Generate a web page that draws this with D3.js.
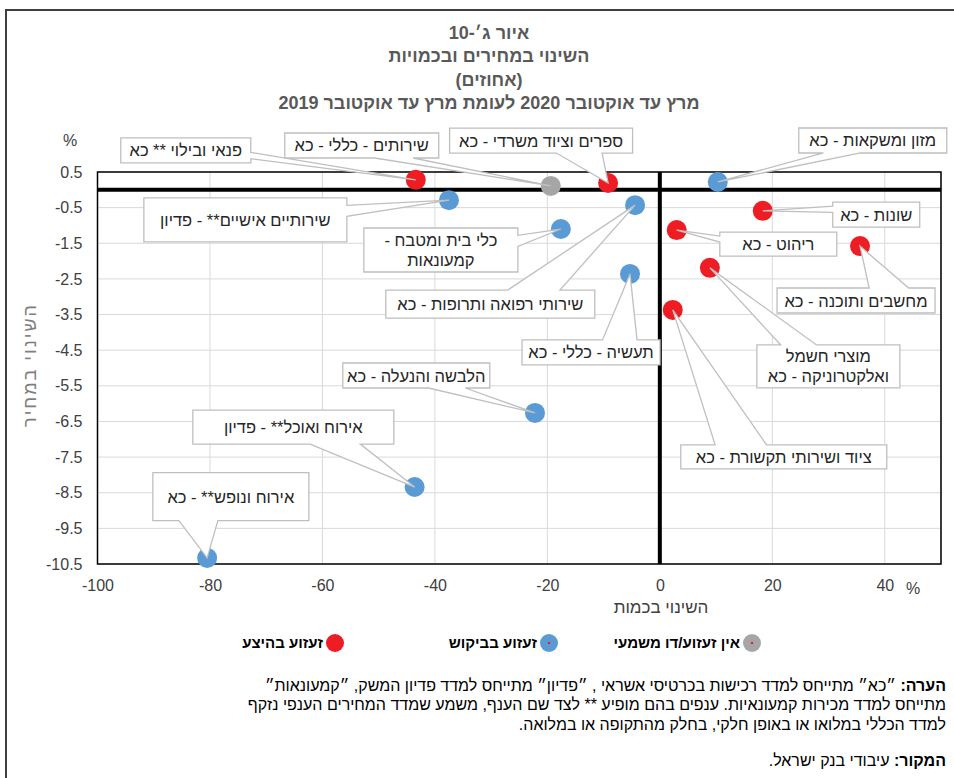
<!DOCTYPE html>
<html>
<style>
body { margin: 0; background: #fff; }
text { font-family: "Liberation Sans", "DejaVu Sans", sans-serif; }
</style>
<body>
<script src="https://d3js.org/d3.v7.min.js"></script>
<script>
// branches, change in quantity (x) and change in price (y), shock type
var categories = [
  "פנאי ובילוי ** כא",
  "ספרים וציוד משרדי - כא",
  "שונות - כא",
  "ריהוט - כא",
  "מחשבים ותוכנה - כא",
  "מוצרי חשמל|ואלקטרוניקה - כא",
  "ציוד ושירותי תקשורת - כא",
  "מזון ומשקאות - כא",
  "שירותיים אישיים** - פדיון",
  "שירותי רפואה ותרופות - כא",
  "כלי בית ומטבח -|קמעונאות",
  "תעשיה - כללי - כא",
  "הלבשה והנעלה - כא",
  "אירוח ואוכל** - פדיון",
  "אירוח ונופש** - כא",
  "שירותים - כללי - כא"
];
var quantityChange = [-43.4, -9.2, 18.3, 3.0, 35.6, 8.9, 2.3, 10.3, -37.5, -4.4, -17.6, -5.3, -22.2, -43.6, -80.5, -19.4];
var priceChange = [0.28, 0.19, -0.59, -1.13, -1.58, -2.19, -3.37, 0.22, -0.29, -0.43, -1.10, -2.36, -6.26, -8.34, -10.33, 0.11];
var shockType = ["supply", "supply", "supply", "supply", "supply", "supply", "supply",
  "demand", "demand", "demand", "demand", "demand", "demand", "demand", "demand", "none"];

var xTicks = [-100, -80, -60, -40, -20, 0, 20, 40];
var yTicks = [0.5, -0.5, -1.5, -2.5, -3.5, -4.5, -5.5, -6.5, -7.5, -8.5, -9.5, -10.5];

var legendKeys = ["none", "demand", "supply"];
var legendLabels = ["אין זעזוע/דו משמעי", "זעזוע בביקוש", "זעזוע בהיצע"];

var titleLines = [
  "איור ג׳-10",
  "השינוי במחירים ובכמויות",
  "(אחוזים)",
  "מרץ עד אוקטובר 2020 לעומת מרץ עד אוקטובר 2019"
];

// callout boxes: offset of box centre from its point, width, height (px)
var callouts = [
  [-230, -29.5, 130, 25], [-67, -42.5, 183, 25], [113.5, 3.7, 87, 25], [101.6, 14, 117, 24],
  [-4, 54.4, 158, 25], [118.5, 98.6, 143, 43], [111, 147, 206, 24], [155, -41.5, 148, 25],
  [-203.6, 19.8, 203, 44], [-144.8, 98.9, 209, 28], [-120, 21, 154, 44], [-39, 78.5, 138, 25],
  [-118.7, -37.4, 147, 25], [-121.3, -60, 201, 34], [23.7, -61.3, 156, 48], [-189, -40.4, 154, 25]
];

var colors = { supply: "#ee1d23", demand: "#5b9bd5", none: "#a6a6a6" };

var width = 954, height = 778;
var svg = d3.select("body").append("svg")
  .attr("width", width)
  .attr("height", height);

// frame
svg.append("path")
  .attr("d", "M6,778 V10 H954")
  .attr("fill", "none")
  .attr("stroke", "#3f3f3f")
  .attr("stroke-width", 2);

var x = d3.scaleLinear().domain([-100, 50]).range([97.5, 941]);
var y = d3.scaleLinear().domain([-10.5, 0.5]).range([564, 172]);

// title
svg.append("g").selectAll("text")
  .data(titleLines)
  .join("text")
  .attr("x", 489)
  .attr("y", function(d, i) { return 39 + i * 23.3; })
  .attr("direction", "rtl")
  .attr("text-anchor", "middle")
  .attr("font-size", 18)
  .attr("font-weight", "bold")
  .attr("fill", "#595959")
  .text(function(d) { return d; });

// grid
var grid = svg.append("g");
grid.selectAll("line.h")
  .data(yTicks)
  .join("line")
  .attr("class", "h")
  .attr("x1", x.range()[0]).attr("x2", x.range()[1])
  .attr("y1", function(d) { return y(d); }).attr("y2", function(d) { return y(d); })
  .attr("stroke", "#d9d9d9").attr("stroke-width", 1);
grid.selectAll("line.v")
  .data(xTicks.concat([50]))
  .join("line")
  .attr("class", "v")
  .attr("x1", function(d) { return x(d); }).attr("x2", function(d) { return x(d); })
  .attr("y1", y.range()[0]).attr("y2", y.range()[1])
  .attr("stroke", "#d9d9d9").attr("stroke-width", 1);

// plot border
svg.append("rect")
  .attr("x", x(-100)).attr("y", y(0.5))
  .attr("width", x(50) - x(-100)).attr("height", y(-10.5) - y(0.5))
  .attr("fill", "none").attr("stroke", "#000").attr("stroke-width", 1.5);

// axes
var xAxis = svg.append("g")
  .attr("transform", "translate(0," + y(-10.5) + ")")
  .call(d3.axisBottom(x).tickValues(xTicks).tickSize(0).tickPadding(16)
    .tickFormat(function(d) { return String(d); }));
var yAxis = svg.append("g")
  .attr("transform", "translate(" + x(-100) + ",0)")
  .call(d3.axisLeft(y).tickValues(yTicks).tickSize(0).tickPadding(15)
    .tickFormat(function(d) { return d.toFixed(1); }));
[xAxis, yAxis].forEach(function(a) {
  a.select(".domain").remove();
  a.selectAll("text")
    .attr("font-family", "Liberation Sans, sans-serif")
    .attr("font-size", 16)
    .attr("fill", "#404040");
});

// zero lines
svg.append("line")
  .attr("x1", x(-100)).attr("x2", x(50))
  .attr("y1", y(0)).attr("y2", y(0))
  .attr("stroke", "#000").attr("stroke-width", 4);
svg.append("line")
  .attr("x1", x(0)).attr("x2", x(0))
  .attr("y1", y(0.5)).attr("y2", y(-10.5))
  .attr("stroke", "#000").attr("stroke-width", 4);

// axis units and titles
svg.append("text").attr("x", 70).attr("y", 146).attr("text-anchor", "middle")
  .attr("font-size", 16).attr("fill", "#404040").text("%");
svg.append("text").attr("x", 913).attr("y", 594).attr("text-anchor", "middle")
  .attr("font-size", 16).attr("fill", "#404040").text("%");
svg.append("text")
  .attr("transform", "translate(36,365) rotate(-90)")
  .attr("direction", "rtl")
  .attr("text-anchor", "middle")
  .attr("font-size", 18)
  .attr("letter-spacing", 2)
  .attr("fill", "#7f7f7f")
  .text("השינוי במחיר");
svg.append("text")
  .attr("x", 661).attr("y", 613)
  .attr("direction", "rtl")
  .attr("text-anchor", "middle")
  .attr("font-size", 17).attr("fill", "#404040")
  .text("השינוי בכמות");

var points = categories.map(function(c, i) {
  return { name: c, qx: quantityChange[i], py: priceChange[i], type: shockType[i], box: callouts[i] };
});

// markers
svg.append("g").selectAll("circle")
  .data(points)
  .join("circle")
  .attr("cx", function(d) { return x(d.qx); })
  .attr("cy", function(d) { return y(d.py); })
  .attr("r", 10)
  .attr("fill", function(d) { return colors[d.type]; });

// callout shape (rectangle with wedge pointing to the marker)
function calloutPath(px, py, cx, cy, w, h) {
  var l = cx - w / 2, r = cx + w / 2, t = cy - h / 2, b = cy + h / 2;
  var dxp = px - cx, dyp = py - cy;
  var x1 = l + w * (dxp > 0 ? 7 : 2) / 12, x2 = l + w * (dxp > 0 ? 10 : 5) / 12;
  var y1 = t + h * (dyp > 0 ? 7 : 2) / 12, y2 = t + h * (dyp > 0 ? 10 : 5) / 12;
  var vertical = Math.abs(dyp) / h > Math.abs(dxp) / w;
  var p = "M" + l + "," + t;
  if (vertical && dyp < 0) p += "L" + x1 + "," + t + "L" + px + "," + py + "L" + x2 + "," + t;
  p += "L" + r + "," + t;
  if (!vertical && dxp > 0) p += "L" + r + "," + y1 + "L" + px + "," + py + "L" + r + "," + y2;
  p += "L" + r + "," + b;
  if (vertical && dyp > 0) p += "L" + x2 + "," + b + "L" + px + "," + py + "L" + x1 + "," + b;
  p += "L" + l + "," + b;
  if (!vertical && dxp < 0) p += "L" + l + "," + y2 + "L" + px + "," + py + "L" + l + "," + y1;
  return p + "Z";
}

var labels = svg.append("g").selectAll("g")
  .data(points)
  .join("g");

labels.append("path")
  .attr("d", function(d) {
    var px = x(d.qx), py = y(d.py);
    return calloutPath(px, py, px + d.box[0], py + d.box[1], d.box[2], d.box[3]);
  })
  .attr("fill", "#fff")
  .attr("stroke", "#bfbfbf")
  .attr("stroke-width", 1.3);

labels.each(function(d) {
  var lines = d.name.split("|");
  var cx = x(d.qx) + d.box[0], cy = y(d.py) + d.box[1];
  var t = d3.select(this).append("text")
    .attr("direction", "rtl")
    .attr("text-anchor", "middle")
    .attr("font-size", 16.5)
    .attr("fill", "#262626");
  lines.forEach(function(s, i) {
    t.append("tspan")
      .attr("x", cx)
      .attr("y", cy + 6 + (i - (lines.length - 1) / 2) * 20)
      .text(s);
  });
});

// legend
var legendX = [752, 549, 335];
var legend = svg.append("g").selectAll("g")
  .data(legendKeys)
  .join("g")
  .attr("transform", function(d, i) { return "translate(" + legendX[i] + ",643)"; });
legend.append("circle").attr("r", 9).attr("fill", function(d) { return colors[d]; });
legend.filter(function(d) { return d !== "supply"; })
  .append("circle").attr("r", 1.2).attr("fill", "#ee1d23");
legend.append("text")
  .attr("x", -12).attr("y", 5)
  .attr("direction", "rtl")
  .attr("text-anchor", "start")
  .attr("font-family", "Liberation Sans Narrow, Liberation Sans, sans-serif")
  .attr("font-size", 15)
  .attr("font-weight", "bold")
  .attr("fill", "#000")
  .text(function(d, i) { return legendLabels[i]; });

// note and source
var noteLines = [
  [["הערה: ", true], ["״כא״ מתייחס למדד רכישות בכרטיסי אשראי , ״פדיון״ מתייחס למדד פדיון המשק, ״קמעונאות״", false]],
  [["מתייחס למדד מכירות קמעונאיות. ענפים בהם מופיע ** לצד שם הענף, משמע שמדד המחירים הענפי נזקף", false]],
  [["למדד הכללי במלואו או באופן חלקי, בחלק מהתקופה או במלואה.", false]],
  [["המקור: ", true], ["עיבודי בנק ישראל.", false]]
];
var noteY = [691, 710, 730, 766];
noteLines.forEach(function(parts, i) {
  var t = svg.append("text")
    .attr("x", 946).attr("y", noteY[i])
    .attr("direction", "rtl")
    .attr("text-anchor", "start")
    .attr("font-family", "Liberation Sans Narrow, Liberation Sans, sans-serif")
    .attr("font-size", 16)
    .attr("fill", "#000");
  parts.forEach(function(p) {
    t.append("tspan").attr("font-weight", p[1] ? "bold" : "normal").text(p[0]);
  });
});
</script>
</body>
</html>
